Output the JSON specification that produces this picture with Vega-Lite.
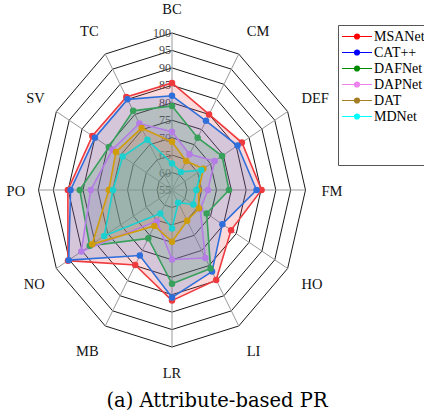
{
  "$schema": "https://vega.github.io/schema/vega-lite/v6.json",
  "width": 424,
  "height": 388,
  "padding": 0,
  "autosize": {"type": "pad"},
  "background": "white",
  "title": {"text": "(a) Attribute-based PR", "orient": "bottom", "font": "DejaVu Serif", "fontSize": 19.5, "fontWeight": "normal", "offset": 4, "anchor": "middle", "dx": 5, "color": "#000"},
  "config": {"view": {"stroke": null}},
  "resolve": {"scale": {"color": "independent"}},
  "datasets": {
    "axes": [{"attr": "BC"}, {"attr": "CM"}, {"attr": "DEF"}, {"attr": "FM"}, {"attr": "HO"}, {"attr": "LI"}, {"attr": "LR"}, {"attr": "MB"}, {"attr": "NO"}, {"attr": "PO"}, {"attr": "SV"}, {"attr": "TC"}],
    "rings": [
      {"level": 60, "attrs": ["BC","CM","DEF","FM","HO","LI","LR","MB","NO","PO","SV","TC"]},
      {"level": 65, "attrs": ["BC","CM","DEF","FM","HO","LI","LR","MB","NO","PO","SV","TC"]},
      {"level": 70, "attrs": ["BC","CM","DEF","FM","HO","LI","LR","MB","NO","PO","SV","TC"]},
      {"level": 75, "attrs": ["BC","CM","DEF","FM","HO","LI","LR","MB","NO","PO","SV","TC"]},
      {"level": 80, "attrs": ["BC","CM","DEF","FM","HO","LI","LR","MB","NO","PO","SV","TC"]},
      {"level": 85, "attrs": ["BC","CM","DEF","FM","HO","LI","LR","MB","NO","PO","SV","TC"]},
      {"level": 90, "attrs": ["BC","CM","DEF","FM","HO","LI","LR","MB","NO","PO","SV","TC"]},
      {"level": 95, "attrs": ["BC","CM","DEF","FM","HO","LI","LR","MB","NO","PO","SV","TC"]},
      {"level": 100, "attrs": ["BC","CM","DEF","FM","HO","LI","LR","MB","NO","PO","SV","TC"]}
    ],
    "ticks": [{"level": 55}, {"level": 60}, {"level": 65}, {"level": 70}, {"level": 75}, {"level": 80}, {"level": 85}, {"level": 90}, {"level": 95}, {"level": 100}],
    "scores": [
      {"model": "MSANet", "attr": "BC", "v": 85.7}, {"model": "MSANet", "attr": "CM", "v": 80.0}, {"model": "MSANet", "attr": "DEF", "v": 82.2}, {"model": "MSANet", "attr": "FM", "v": 85.2}, {"model": "MSANet", "attr": "HO", "v": 78.0}, {"model": "MSANet", "attr": "LI", "v": 84.8}, {"model": "MSANet", "attr": "LR", "v": 86.7}, {"model": "MSANet", "attr": "MB", "v": 79.8}, {"model": "MSANet", "attr": "NO", "v": 95.5}, {"model": "MSANet", "attr": "PO", "v": 90.1}, {"model": "MSANet", "attr": "SV", "v": 86.0}, {"model": "MSANet", "attr": "TC", "v": 85.8},
      {"model": "CAT++", "attr": "BC", "v": 82.0}, {"model": "CAT++", "attr": "CM", "v": 77.9}, {"model": "CAT++", "attr": "DEF", "v": 80.5}, {"model": "CAT++", "attr": "FM", "v": 83.5}, {"model": "CAT++", "attr": "HO", "v": 74.6}, {"model": "CAT++", "attr": "LI", "v": 82.0}, {"model": "CAT++", "attr": "LR", "v": 85.8}, {"model": "CAT++", "attr": "MB", "v": 76.7}, {"model": "CAT++", "attr": "NO", "v": 95.2}, {"model": "CAT++", "attr": "PO", "v": 89.2}, {"model": "CAT++", "attr": "SV", "v": 85.0}, {"model": "CAT++", "attr": "TC", "v": 85.0},
      {"model": "DAFNet", "attr": "BC", "v": 79.1}, {"model": "DAFNet", "attr": "CM", "v": 72.3}, {"model": "DAFNet", "attr": "DEF", "v": 74.5}, {"model": "DAFNet", "attr": "FM", "v": 74.2}, {"model": "DAFNet", "attr": "HO", "v": 68.5}, {"model": "DAFNet", "attr": "LI", "v": 81.0}, {"model": "DAFNet", "attr": "LR", "v": 81.9}, {"model": "DAFNet", "attr": "MB", "v": 71.0}, {"model": "DAFNet", "attr": "NO", "v": 87.0}, {"model": "DAFNet", "attr": "PO", "v": 86.1}, {"model": "DAFNet", "attr": "SV", "v": 79.6}, {"model": "DAFNet", "attr": "TC", "v": 81.2},
      {"model": "DAPNet", "attr": "BC", "v": 71.7}, {"model": "DAPNet", "attr": "CM", "v": 66.8}, {"model": "DAPNet", "attr": "DEF", "v": 71.6}, {"model": "DAPNet", "attr": "FM", "v": 67.1}, {"model": "DAPNet", "attr": "HO", "v": 66.0}, {"model": "DAPNet", "attr": "LI", "v": 77.5}, {"model": "DAPNet", "attr": "LR", "v": 74.9}, {"model": "DAPNet", "attr": "MB", "v": 65.3}, {"model": "DAPNet", "attr": "NO", "v": 90.3}, {"model": "DAPNet", "attr": "PO", "v": 82.4}, {"model": "DAPNet", "attr": "SV", "v": 78.2}, {"model": "DAPNet", "attr": "TC", "v": 77.0},
      {"model": "DAT", "attr": "BC", "v": 68.8}, {"model": "DAT", "attr": "CM", "v": 64.6}, {"model": "DAT", "attr": "DEF", "v": 67.2}, {"model": "DAT", "attr": "FM", "v": 64.0}, {"model": "DAT", "attr": "HO", "v": 65.5}, {"model": "DAT", "attr": "LI", "v": 65.2}, {"model": "DAT", "attr": "LR", "v": 69.8}, {"model": "DAT", "attr": "MB", "v": 66.9}, {"model": "DAT", "attr": "NO", "v": 86.1}, {"model": "DAT", "attr": "PO", "v": 76.3}, {"model": "DAT", "attr": "SV", "v": 76.8}, {"model": "DAT", "attr": "TC", "v": 75.5},
      {"model": "MDNet", "attr": "BC", "v": 62.6}, {"model": "MDNet", "attr": "CM", "v": 61.0}, {"model": "MDNet", "attr": "DEF", "v": 66.4}, {"model": "MDNet", "attr": "FM", "v": 63.2}, {"model": "MDNet", "attr": "HO", "v": 63.3}, {"model": "MDNet", "attr": "LI", "v": 59.2}, {"model": "MDNet", "attr": "LR", "v": 66.0}, {"model": "MDNet", "attr": "MB", "v": 62.8}, {"model": "MDNet", "attr": "NO", "v": 81.4}, {"model": "MDNet", "attr": "PO", "v": 74.9}, {"model": "MDNet", "attr": "SV", "v": 74.2}, {"model": "MDNet", "attr": "TC", "v": 71.6}
    ]
  },
  "layer": [
    {
      "data": {"name": "rings"},
      "transform": [
        {"flatten": ["attrs"], "as": ["attr"]},
        {"calculate": "indexof(['BC','CM','DEF','FM','HO','LI','LR','MB','NO','PO','SV','TC'], datum.attr)", "as": "k"},
        {"calculate": "PI/2 - datum.k*PI/6", "as": "ang"},
        {"calculate": "(datum.level-55)/45", "as": "u"},
        {"calculate": "datum.u*cos(datum.ang)", "as": "px"},
        {"calculate": "datum.u*sin(datum.ang)", "as": "py"}
      ],
      "mark": {"type": "line", "interpolate": "linear-closed", "color": "#1a1a1a", "strokeWidth": 1},
      "encoding": {
        "x": {"field": "px", "type": "quantitative", "scale": {"domain": [-1.2884, 1.8876], "nice": false, "zero": false}, "axis": null},
        "y": {"field": "py", "type": "quantitative", "scale": {"domain": [-1.2611, 1.2102], "nice": false, "zero": false}, "axis": null},
        "detail": {"field": "level", "type": "nominal"},
        "order": {"field": "k", "type": "quantitative"}
      }
    },
    {
      "data": {"name": "axes"},
      "transform": [
        {"calculate": "indexof(['BC','CM','DEF','FM','HO','LI','LR','MB','NO','PO','SV','TC'], datum.attr)", "as": "k"},
        {"calculate": "PI/2 - datum.k*PI/6", "as": "ang"},
        {"calculate": "cos(datum.ang)", "as": "px"},
        {"calculate": "sin(datum.ang)", "as": "py"},
        {"calculate": "0", "as": "z"}
      ],
      "mark": {"type": "rule", "color": "#9a9a9a", "strokeWidth": 1},
      "encoding": {
        "x": {"field": "z", "type": "quantitative"},
        "y": {"field": "z", "type": "quantitative"},
        "x2": {"field": "px"},
        "y2": {"field": "py"}
      }
    },
    {
      "data": {"name": "ticks"},
      "transform": [
        {"calculate": "(datum.level-55)/45", "as": "py"},
        {"calculate": "0", "as": "px"}
      ],
      "mark": {"type": "text", "align": "right", "baseline": "middle", "dx": -1, "font": "Liberation Serif", "fontSize": 12, "color": "#444"},
      "encoding": {
        "x": {"field": "px", "type": "quantitative"},
        "y": {"field": "py", "type": "quantitative"},
        "text": {"field": "level", "type": "quantitative"}
      }
    },
    {
      "data": {"name": "axes"},
      "transform": [
        {"calculate": "indexof(['BC','CM','DEF','FM','HO','LI','LR','MB','NO','PO','SV','TC'], datum.attr)", "as": "k"},
        {"filter": "datum.k >= 1 && datum.k <= 5"},
        {"calculate": "PI/2 - datum.k*PI/6", "as": "ang"},
        {"calculate": "1.12*cos(datum.ang)", "as": "px"},
        {"calculate": "1.18*sin(datum.ang)", "as": "py"}
      ],
      "mark": {"type": "text", "align": "left", "baseline": "middle", "dy": 2, "font": "Liberation Serif", "fontSize": 14.5, "color": "#111"},
      "encoding": {
        "x": {"field": "px", "type": "quantitative"},
        "y": {"field": "py", "type": "quantitative"},
        "text": {"field": "attr"}
      }
    },
    {
      "data": {"name": "axes"},
      "transform": [
        {"calculate": "indexof(['BC','CM','DEF','FM','HO','LI','LR','MB','NO','PO','SV','TC'], datum.attr)", "as": "k"},
        {"filter": "datum.k >= 7"},
        {"calculate": "PI/2 - datum.k*PI/6", "as": "ang"},
        {"calculate": "1.1*cos(datum.ang)", "as": "px"},
        {"calculate": "1.18*sin(datum.ang)", "as": "py"}
      ],
      "mark": {"type": "text", "align": "right", "baseline": "middle", "dy": 2, "font": "Liberation Serif", "fontSize": 14.5, "color": "#111"},
      "encoding": {
        "x": {"field": "px", "type": "quantitative"},
        "y": {"field": "py", "type": "quantitative"},
        "text": {"field": "attr"}
      }
    },
    {
      "data": {"name": "axes"},
      "transform": [
        {"calculate": "indexof(['BC','CM','DEF','FM','HO','LI','LR','MB','NO','PO','SV','TC'], datum.attr)", "as": "k"},
        {"filter": "datum.k == 0 || datum.k == 6"},
        {"calculate": "PI/2 - datum.k*PI/6", "as": "ang"},
        {"calculate": "0", "as": "px"},
        {"calculate": "1.16*sin(datum.ang)", "as": "py"}
      ],
      "mark": {"type": "text", "align": "center", "baseline": "middle", "dy": 2, "font": "Liberation Serif", "fontSize": 14.5, "color": "#111"},
      "encoding": {
        "x": {"field": "px", "type": "quantitative"},
        "y": {"field": "py", "type": "quantitative"},
        "text": {"field": "attr"}
      }
    },
    {
      "data": {"name": "scores"},
      "transform": [
        {"calculate": "indexof(['BC','CM','DEF','FM','HO','LI','LR','MB','NO','PO','SV','TC'], datum.attr)", "as": "k"},
        {"calculate": "PI/2 - datum.k*PI/6", "as": "ang"},
        {"calculate": "(datum.v-55)/45", "as": "u"},
        {"calculate": "datum.u*cos(datum.ang)", "as": "px"},
        {"calculate": "datum.u*sin(datum.ang)", "as": "py"}
      ],
      "layer": [
        {
          "mark": {"type": "line", "filled": true, "interpolate": "linear-closed", "fillOpacity": 0.19},
          "encoding": {
            "x": {"field": "px", "type": "quantitative"},
            "y": {"field": "py", "type": "quantitative"},
            "color": {"field": "model", "type": "nominal", "legend": null},
            "order": {"field": "k", "type": "quantitative"}
          }
        },
        {
          "mark": {"type": "line", "interpolate": "linear-closed", "strokeWidth": 1.6},
          "encoding": {
            "x": {"field": "px", "type": "quantitative"},
            "y": {"field": "py", "type": "quantitative"},
            "color": {"field": "model", "type": "nominal", "legend": null},
            "order": {"field": "k", "type": "quantitative"}
          }
        },
        {
          "mark": {"type": "point", "filled": true, "size": 42, "opacity": 1},
          "encoding": {
            "x": {"field": "px", "type": "quantitative"},
            "y": {"field": "py", "type": "quantitative"},
            "color": {
              "field": "model", "type": "nominal", "legend": null,
              "scale": {"domain": ["MSANet", "CAT++", "DAFNet", "DAPNet", "DAT", "MDNet"], "range": ["#ee3a3e", "#2f6fdc", "#37a05a", "#b47ce4", "#cf9c0c", "#1cd0d0"]}
            }
          }
        }
      ]
    },
    {
      "data": {"name": "scores"},
      "transform": [
        {"filter": "false"},
        {"calculate": "0", "as": "px"},
        {"calculate": "0", "as": "py"}
      ],
      "layer": [
        {
          "mark": {"type": "line"},
          "encoding": {
            "x": {"field": "px", "type": "quantitative"},
            "y": {"field": "py", "type": "quantitative"},
            "color": {"field": "model", "type": "nominal"}
          }
        },
        {
          "mark": {"type": "point", "filled": true},
          "encoding": {
            "x": {"field": "px", "type": "quantitative"},
            "y": {"field": "py", "type": "quantitative"},
            "color": {
              "field": "model", "type": "nominal",
              "scale": {"domain": ["MSANet", "CAT++", "DAFNet", "DAPNet", "DAT", "MDNet"], "range": ["#ff0000", "#0000ff", "#008a00", "#ee82ee", "#a57d24", "#00ffff"]},
              "legend": {
                "orient": "none", "legendX": 338, "legendY": 25,
                "title": " ", "titleOrient": "bottom", "titleFontSize": 30, "titlePadding": 8,
                "symbolType": "M-1,0H3M1.33,0A0.33,0.33 0 1,1 0.67,0A0.33,0.33 0 1,1 1.33,0Z",
                "symbolSize": 225, "symbolStrokeWidth": 1.2, "symbolOpacity": 1,
                "labelFont": "Liberation Serif", "labelFontSize": 14, "labelColor": "#000", "labelOffset": 16,
                "strokeColor": "#555", "fillColor": "white", "padding": 3, "rowPadding": 0
              }
            }
          }
        }
      ]
    }
  ]
}
